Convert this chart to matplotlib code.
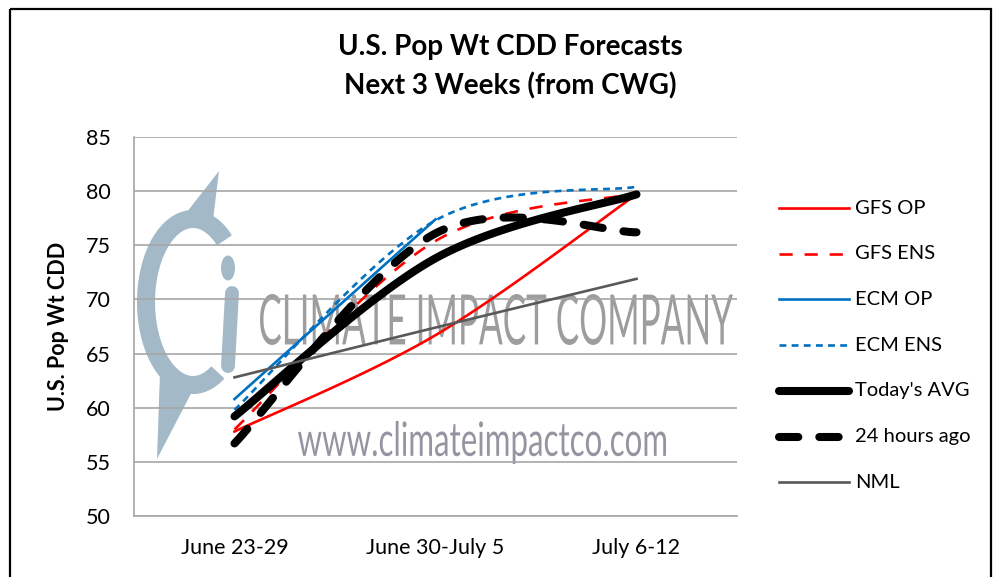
import numpy as np
import matplotlib
matplotlib.use("Agg")
import matplotlib.pyplot as plt
from matplotlib.patches import Rectangle, Ellipse, Polygon, PathPatch
from matplotlib.lines import Line2D
from matplotlib.textpath import TextPath
from matplotlib.font_manager import FontProperties
from matplotlib.transforms import Affine2D

plt.rcParams['font.family'] = ['Lato', 'DejaVu Sans']

# ---- data ----
categories = ["June 23-29", "June 30-July 5", "July 6-12"]
gfs_op = [57.8, 66.7, 79.7]
gfs_ens = [58.0, 75.4, 79.8]
ecm_op = [60.8, 77.4]
ecm_ens = [59.8, 77.3, 80.4]
todays_avg = [59.2, 73.8, 79.7]
hours_24_ago = [56.7, 76.1, 76.2]
nml = [62.8, 67.4, 71.9]
series_names = ["GFS OP", "GFS ENS", "ECM OP", "ECM ENS", "Today's AVG", "24 hours ago", "NML"]
yticks = [50, 55, 60, 65, 70, 75, 80, 85]


def smooth(ys, n=60):
    xs = np.arange(len(ys), dtype=float)
    P = np.column_stack([xs, np.asarray(ys, float)])
    m = len(P)
    out = []
    for i in range(m - 1):
        p0 = P[i - 1] if i > 0 else P[i]
        p1 = P[i]
        p2 = P[i + 1]
        p3 = P[i + 2] if i + 2 < m else P[i + 1]
        c1 = p1 + (p2 - p0) / 6.0
        c2 = p2 - (p3 - p1) / 6.0
        t = np.linspace(0, 1, n)[:, None]
        b = ((1 - t) ** 3) * p1 + 3 * ((1 - t) ** 2) * t * c1 + 3 * (1 - t) * t ** 2 * c2 + t ** 3 * p2
        out.append(b if i == 0 else b[1:])
    B = np.vstack(out)
    return B[:, 0], B[:, 1]


def fitted_text(axis, s, box, color, alpha, weight='normal'):
    x0, y0, x1, y1 = box
    fp = FontProperties(family=['Lato', 'DejaVu Sans'], weight=weight)
    tp = TextPath((0, 0), s, size=50, prop=fp)
    bb = tp.get_extents()
    sx = (x1 - x0) / bb.width
    sy = (y1 - y0) / bb.height
    tr = Affine2D().translate(-bb.x0, -bb.y0).scale(sx, -sy).translate(x0, y1)
    axis.add_patch(PathPatch(tr.transform_path(tp), facecolor=color, edgecolor='none', alpha=alpha))


W, H = 1001, 577
fig = plt.figure(figsize=(W / 100, H / 100), dpi=100)

# background / watermark axes in pixel coords
bg = fig.add_axes([0, 0, 1, 1], zorder=0)
bg.set_xlim(0, W)
bg.set_ylim(H, 0)
bg.axis('off')
bg.add_patch(Rectangle((10, 9), 981, 580, fill=False, edgecolor='black', linewidth=1.6))

logo_c = '#a4b9c7'
cx, cy, a, b = 193, 302, 47, 83
t = np.radians(np.linspace(48, 302, 200))
bg.plot(cx + a * np.cos(t), cy - b * np.sin(t), color=logo_c, lw=13, solid_capstyle='butt')
bg.add_patch(Polygon([(176, 226), (212, 228), (219, 171)], closed=True, color=logo_c, lw=0))
bg.add_patch(Polygon([(160, 372), (196, 384), (157, 459)], closed=True, color=logo_c, lw=0))
bg.plot([232, 228], [293, 366], color=logo_c, lw=10, solid_capstyle='round')
bg.add_patch(Ellipse((228, 268), 14, 25, color=logo_c, lw=0))

fitted_text(bg, "CLIMATE IMPACT COMPANY", (260, 294, 733, 345), '#8c8c8c', 0.85)
fitted_text(bg, "www.climateimpactco.com", (298, 421, 666, 464), '#8a8a98', 0.9)

# main axes
L, R, T, Bt = 134, 737, 137, 516
ax = fig.add_axes([L / W, 1 - Bt / H, (R - L) / W, (Bt - T) / H], zorder=1)
ax.patch.set_alpha(0)
ax.set_xlim(-0.5, 2.5)
ax.set_ylim(50, 85)
ax.set_yticks(yticks)
ax.set_xticks(range(len(categories)))
ax.set_xticklabels(categories)
ax.tick_params(axis='both', length=0, labelsize=15.5, colors='black')
ax.tick_params(axis='x', pad=16)
ax.tick_params(axis='y', pad=17)
ax.grid(axis='y', color='#a6a6a6', lw=1.2)
ax.set_axisbelow(True)
for s in ['top', 'right']:
    ax.spines[s].set_visible(False)
for s in ['left', 'bottom']:
    ax.spines[s].set_color('#a6a6a6')
    ax.spines[s].set_linewidth(1.2)
ax.set_ylabel("U.S. Pop Wt CDD", fontsize=15.5, fontweight='bold', labelpad=12)

styles = [
    dict(color='#ff0000', lw=1.9, ls='-'),
    dict(color='#ff0000', lw=1.9, ls=(0, (5, 4.5))),
    dict(color='#0070c0', lw=1.9, ls='-'),
    dict(color='#0070c0', lw=1.9, ls=(0, (2.6, 2))),
    dict(color='black', lw=5.8, ls='-', solid_capstyle='round'),
    dict(color='black', lw=5.8, ls=(0, (2.4, 2.6)), dash_capstyle='round'),
    dict(color='#595959', lw=1.9, ls='-'),
]
data = [gfs_op, gfs_ens, ecm_op, ecm_ens, todays_avg, hours_24_ago, nml]
for ys, st in zip(data, styles):
    x, y = smooth(ys)
    ax.plot(x, y, **st)

# legend (manual)
ly0, dy = 208, 45.7
for i, (name, st) in enumerate(zip(series_names, styles)):
    yy = ly0 + i * dy
    bg.add_line(Line2D([779, 849], [yy, yy], **st))
    bg.text(855, yy, name, fontsize=14.5, va='center', ha='left')

# title
bg.text(510, 47, "U.S. Pop Wt CDD Forecasts", fontsize=20, fontweight='bold', ha='center', va='center')
bg.text(510, 86, "Next 3 Weeks (from CWG)", fontsize=20, fontweight='bold', ha='center', va='center')

fig.savefig("out.png", dpi=100)
